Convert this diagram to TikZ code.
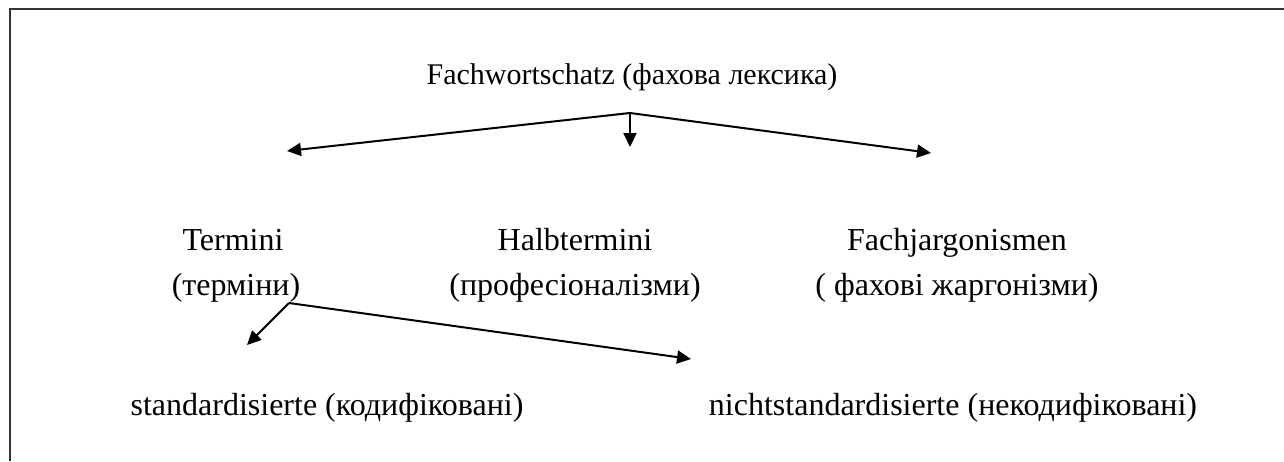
\documentclass[tikz,border=0pt]{standalone}
\usepackage{fontspec}
\setmainfont{Liberation Serif}
\usetikzlibrary{arrows.meta}
\begin{document}
\begin{tikzpicture}[x=1pt,y=-1pt,
  lbl/.style={inner sep=0pt, font=\fontsize{32}{38}\selectfont},
  arr/.style={line width=2pt, -{Triangle[length=14pt,width=13pt]}},
  frame/.style={line width=1.5pt, draw=black!80}]
\useasboundingbox (0,0) rectangle (1284,461);
\draw[frame] (10,461) -- (10,9) -- (1284,9);
\node[lbl, anchor=base, font=\fontsize{30}{36}\selectfont] (title) at (632,84) {Fachwortschatz (фахова лексика)};
\node[lbl, anchor=base] (term) at (233,250) {Termini};
\node[lbl, anchor=base] (termu) at (236,295) {(терміни)};
\node[lbl, anchor=base] (halb) at (575,250) {Halbtermini};
\node[lbl, anchor=base] (halbu) at (575,295) {(професіоналізми)};
\node[lbl, anchor=base] (fach) at (957,250) {Fachjargonismen};
\node[lbl, anchor=base] (fachu) at (957,295) {( фахові жаргонізми)};
\node[lbl, anchor=base] (std) at (327,415) {standardisierte (кодифіковані)};
\node[lbl, anchor=base] (nstd) at (953,415) {nichtstandardisierte (некодифіковані)};
\coordinate (j1) at (630,113);
\coordinate (a1) at (287,151);
\coordinate (a2) at (630,147);
\coordinate (a3) at (931,153);
\coordinate (j2) at (289,303);
\coordinate (b1) at (247,345);
\coordinate (b2) at (691,359);
\draw[arr] (j1) -- (a1);
\draw[arr] (j1) -- (a2);
\draw[arr] (j1) -- (a3);
\draw[arr] (j2) -- (b1);
\draw[arr] (j2) -- (b2);
\end{tikzpicture}
\end{document}
